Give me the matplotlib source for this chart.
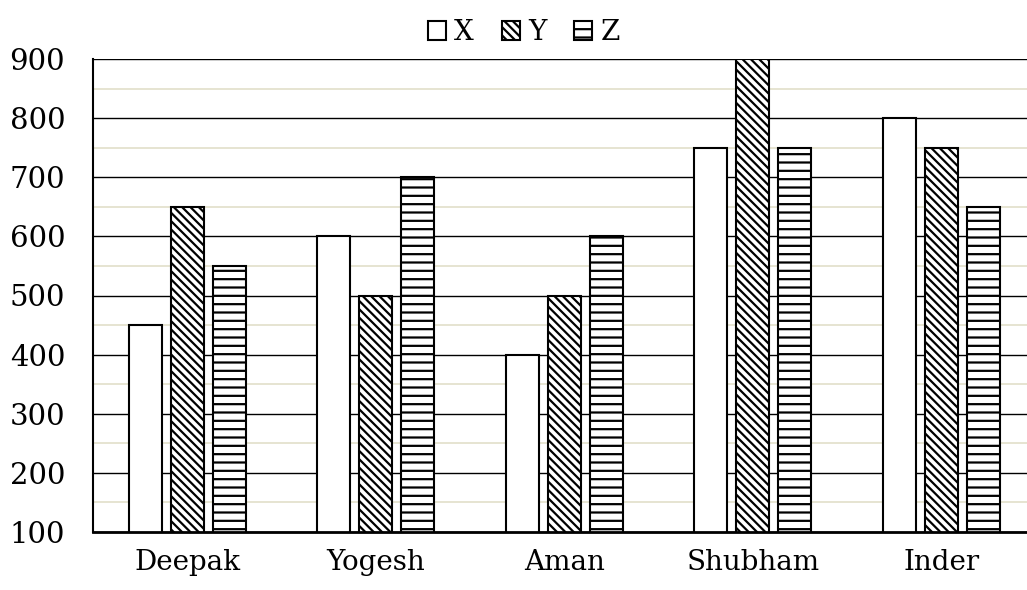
import numpy as np
import matplotlib.pyplot as plt
from matplotlib.patches import Patch

names = ["Deepak", "Yogesh", "Aman", "Shubham", "Inder"]
x_vals = [450, 600, 400, 750, 800]
y_vals = [650, 500, 500, 900, 750]
z_vals = [550, 700, 600, 750, 650]
series = ["X", "Y", "Z"]
hatches = ["", "\\\\\\\\", "--"]

plt.rcParams['font.family'] = ['DejaVu Serif']
plt.rcParams['hatch.linewidth'] = 1.6

fig = plt.figure(figsize=(10.27, 5.90), dpi=100)
ax = fig.add_axes([93/1027, 1 - 532/590, (1027 - 93)/1027, (532 - 59)/590])

idx = np.arange(len(names))
width = 0.175
step = 0.223
for k, vals in enumerate([x_vals, y_vals, z_vals]):
    ax.bar(idx + (k - 1) * step, vals, width, color="white", edgecolor="black",
           linewidth=1.5, hatch=hatches[k], zorder=3)

ax.set_xlim(-0.5, -0.5 + 934/188.5)
ax.set_ylim(100, 900)
ax.set_yticks(range(100, 1000, 100))
ax.set_yticks(range(150, 900, 100), minor=True)
ax.grid(axis="y", which="major", color="black", linewidth=1.0, zorder=0)
ax.grid(axis="y", which="minor", color="#e2dfca", linewidth=1.2, zorder=0)
ax.set_xticks(idx)
ax.set_xticklabels(names)
ax.tick_params(axis="both", which="both", length=0, labelsize=20)
ax.tick_params(axis="y", pad=20, labelsize=21)
ax.tick_params(axis="x", pad=12)
for s in ["top", "right"]:
    ax.spines[s].set_visible(False)
ax.spines["left"].set_linewidth(1.5)
ax.spines["bottom"].set_linewidth(2.0)
ax.spines["left"].set_zorder(4)
ax.spines["bottom"].set_zorder(4)

handles = [Patch(facecolor="white", edgecolor="black", hatch=h, linewidth=1.5) for h in hatches]
fig.legend(handles, series, loc="upper center", bbox_to_anchor=(0.51, 1.01), ncol=3,
           frameon=False, fontsize=20, handlelength=0.65, handleheight=0.65,
           handletextpad=0.3, columnspacing=1.0)

fig.savefig("out.png", dpi=100)
